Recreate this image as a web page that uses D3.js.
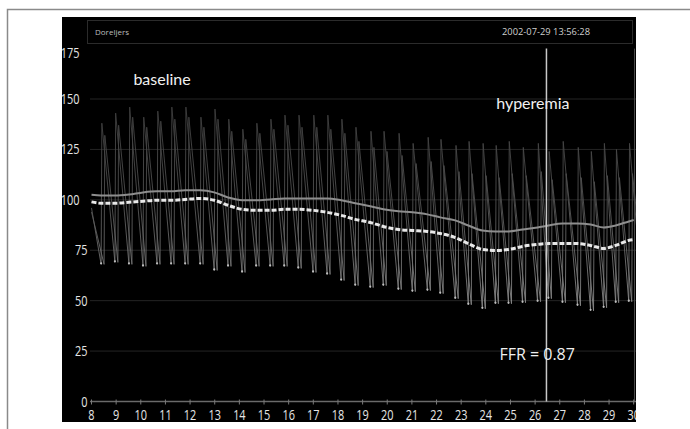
<!DOCTYPE html>
<html><head><meta charset="utf-8">
<script src="https://cdn.jsdelivr.net/npm/d3@7"></script>
<style>html,body{margin:0;padding:0;background:#fff;overflow:hidden}</style>
</head><body><svg id="c" width="690" height="429"></svg>
<script>
// ---- data ----
const yTicks = [0, 25, 50, 75, 100, 125, 150, 175];
const xTicks = [8,9,10,11,12,13,14,15,16,17,18,19,20,21,22,23,24,25,26,27,28,29,30];
const beatTimes = [8.39,8.95,9.52,10.09,10.66,11.23,11.80,12.41,12.98,13.54,14.11,14.68,15.25,15.82,16.39,16.99,17.56,18.13,18.70,19.31,19.84,20.45,21.02,21.63,22.15,22.76,23.29,23.86,24.39,24.92,25.49,26.10,26.54,27.11,27.72,28.25,28.78,29.27,29.80,30.37];
const troughs = [68,69,68,67,68,68,68,68,65,67,64,67,67,67,66,64,63,60,57.5,56.5,57.5,55.5,54.5,55,53.5,51,48,46,48.5,48.5,49,49.5,51,49,47.5,45,46.5,49,49.5,50];
const paPeaks = [138,143,146,141,144,146,146,141,145,140,135,138,140,142,142,142,142,140,136,134,134,133,128,131,130,127,129,128,127,129,126,128,124,129,126,124,128,125,128,127];
const pdPeaks = [132,137,141,136,139,140,141,136,140,134,130,133,135,137,136,136,135,133,129,126,124,122,118,119,117,114,113,112,111,113,112,114,110,113,111,109,112,111,113,112];
const traceStart = {t: 8.0, pa: 96, pd: 94};
const meanTimes = [8.0,8.39,8.95,9.52,10.09,10.66,11.23,11.80,12.41,12.98,13.54,14.11,14.68,15.25,15.82,16.39,16.99,17.56,18.13,18.70,19.31,19.84,20.45,21.02,21.63,22.15,22.76,23.29,23.86,24.39,24.92,25.49,26.10,26.54,27.11,27.72,28.25,28.78,29.27,29.80,30.0];
const meanPa = [102.5,102.2,102.2,102.7,103.7,104.2,104.2,104.7,104.7,103.7,101.2,99.8,99.8,100.2,100.7,100.7,100.7,100.7,99.8,98.3,96.8,95.3,94.3,93.8,92.8,91.3,89.8,87.3,84.8,84.3,84.3,85.3,86.3,87.3,88.3,88.3,87.8,86.3,87.3,89.3,90.0];
const meanPd = [99.0,98.3,98.3,98.8,99.3,99.8,99.8,100.2,100.7,99.8,97.3,95.3,94.8,94.8,95.3,95.3,94.8,93.8,92.3,90.3,88.8,86.8,85.3,84.8,84.3,83.3,81.3,78.3,75.4,74.9,75.4,76.9,77.9,78.3,78.3,78.3,77.4,75.9,77.4,79.9,80.3];
const markerTime = 26.46;
const header = {left: "Doreljers", right: "2002-07-29 13:56:28"};
const notes = [{t: 9.7, v: 157, text: "baseline", font: "Lato"}, {t: 24.42, v: 145, text: "hyperemia", font: "Lato"}, {t: 24.55, v: 20.5, text: "FFR = 0.87", font: "Open Sans"}];

// ---- drawing ----
const svg = d3.select("#c");
const x = d3.scaleLinear().domain([8, 30]).range([91.5, 633.7]);
const y = d3.scaleLinear().domain([0, 175]).range([401.5, 48.6]);

// outer frame
svg.append("rect").attr("x", 7.5).attr("y", 9.5).attr("width", 720).attr("height", 440)
  .attr("fill", "#fff").attr("stroke", "#8a8a8a").attr("stroke-width", 1.5);

const defs = svg.append("defs");
defs.append("clipPath").attr("id", "blk").append("rect")
  .attr("x", 62).attr("y", 17).attr("width", 574).attr("height", 405);
const grad = defs.append("linearGradient").attr("id", "fade")
  .attr("gradientUnits", "userSpaceOnUse").attr("x1", 0).attr("x2", 0)
  .attr("y1", y(150)).attr("y2", y(45));
grad.append("stop").attr("offset", 0).attr("stop-color", "#3c3c3c");
grad.append("stop").attr("offset", 0.5).attr("stop-color", "#525252");
grad.append("stop").attr("offset", 1).attr("stop-color", "#8c8c8c");

const g = svg.append("g").attr("clip-path", "url(#blk)");
g.append("rect").attr("x", 62).attr("y", 17).attr("width", 574).attr("height", 405).attr("fill", "#000");

// header box
g.append("rect").attr("x", 87.5).attr("y", 20.5).attr("width", 545).attr("height", 23)
  .attr("fill", "none").attr("stroke", "#2b2b2b").attr("stroke-width", 1);
g.append("text").attr("x", 95).attr("y", 35).attr("fill", "#bdbdbd")
  .attr("font-family", "Open Sans").attr("font-size", 8).text(header.left);
g.append("text").attr("x", 590).attr("y", 35).attr("fill", "#cfcfcf").attr("text-anchor", "end")
  .attr("font-family", "Open Sans").attr("font-size", 8.5)
  .attr("textLength", 88).attr("lengthAdjust", "spacingAndGlyphs").text(header.right);

// gridlines
g.selectAll("line.grid").data(yTicks.filter(d => d > 0 && d < 175)).join("line")
  .attr("x1", 90).attr("x2", 636).attr("y1", d => y(d)).attr("y2", d => y(d))
  .attr("stroke", "#242424").attr("stroke-width", 1);

// right edge line
g.append("line").attr("x1", 634.5).attr("x2", 634.5).attr("y1", y(175)).attr("y2", y(0))
  .attr("stroke", "#4a4a4a").attr("stroke-width", 1);

// pulse traces (sawtooth from trough/peak readings)
function tracePath(peaks, lag, start) {
  const pts = [[x(traceStart.t), y(start)]];
  beatTimes.forEach((t, i) => {
    pts.push([x(t + lag), y(troughs[i])]);
    pts.push([x(t + lag + 0.03), y(peaks[i])]);
  });
  return d3.line()(pts);
}
g.append("path").attr("d", tracePath(paPeaks, 0, traceStart.pa))
  .attr("fill", "none").attr("stroke", "url(#fade)").attr("stroke-width", 0.9);
g.append("path").attr("d", tracePath(pdPeaks, 0.12, traceStart.pd))
  .attr("fill", "none").attr("stroke", "url(#fade)").attr("stroke-width", 0.9);

// trough dots
g.selectAll("circle.tr").data(beatTimes).join("circle")
  .attr("cx", d => x(d)).attr("cy", (d, i) => y(troughs[i]) - 1).attr("r", 1.1)
  .attr("fill", "#bdbdbd");

// mean lines
const ml = (arr) => d3.line().x((d, i) => x(meanTimes[i])).y(d => y(d)).curve(d3.curveMonotoneX)(arr);
g.append("path").attr("d", ml(meanPa)).attr("fill", "none").attr("stroke", "#8e8e8e").attr("stroke-width", 2);
g.append("path").attr("d", ml(meanPd)).attr("fill", "none").attr("stroke", "#e8e8e8")
  .attr("stroke-width", 3).attr("stroke-dasharray", "5,2");

// x axis line + ticks
g.append("line").attr("x1", 90).attr("x2", 636).attr("y1", y(0)).attr("y2", y(0))
  .attr("stroke", "#6a6a6a").attr("stroke-width", 1.5);
g.selectAll("line.xt").data(xTicks).join("line")
  .attr("x1", d => x(d)).attr("x2", d => x(d)).attr("y1", y(0) - 2).attr("y2", y(0) + 3)
  .attr("stroke", "#7a7a7a").attr("stroke-width", 1);

// marker line
g.append("line").attr("x1", x(markerTime)).attr("x2", x(markerTime)).attr("y1", y(175)).attr("y2", y(0))
  .attr("stroke", "#c8c8c8").attr("stroke-width", 1.5);

// tick labels
g.selectAll("text.xl").data(xTicks).join("text")
  .attr("transform", d => `translate(${x(d)},${419.5}) scale(0.78,1)`)
  .attr("text-anchor", "middle").attr("fill", "#e6e6e6")
  .attr("font-family", "Open Sans").attr("font-size", 14).text(d => d);
g.selectAll("text.yl").data(yTicks).join("text")
  .attr("transform", d => `translate(${d >= 100 ? 79.5 : 87.5},${y(d) + 5 + (d === 175 ? 4 : 0)}) scale(0.78,1)`)
  .attr("text-anchor", "end").attr("fill", "#e6e6e6")
  .attr("font-family", "Open Sans").attr("font-size", 14).text(d => d);

// annotations
g.selectAll("text.note").data(notes).join("text")
  .attr("x", d => x(d.t)).attr("y", d => y(d.v))
  .attr("fill", "#f0f0f0").attr("font-family", d => d.font)
  .attr("font-size", 16).text(d => d.text);
</script></body></html>
